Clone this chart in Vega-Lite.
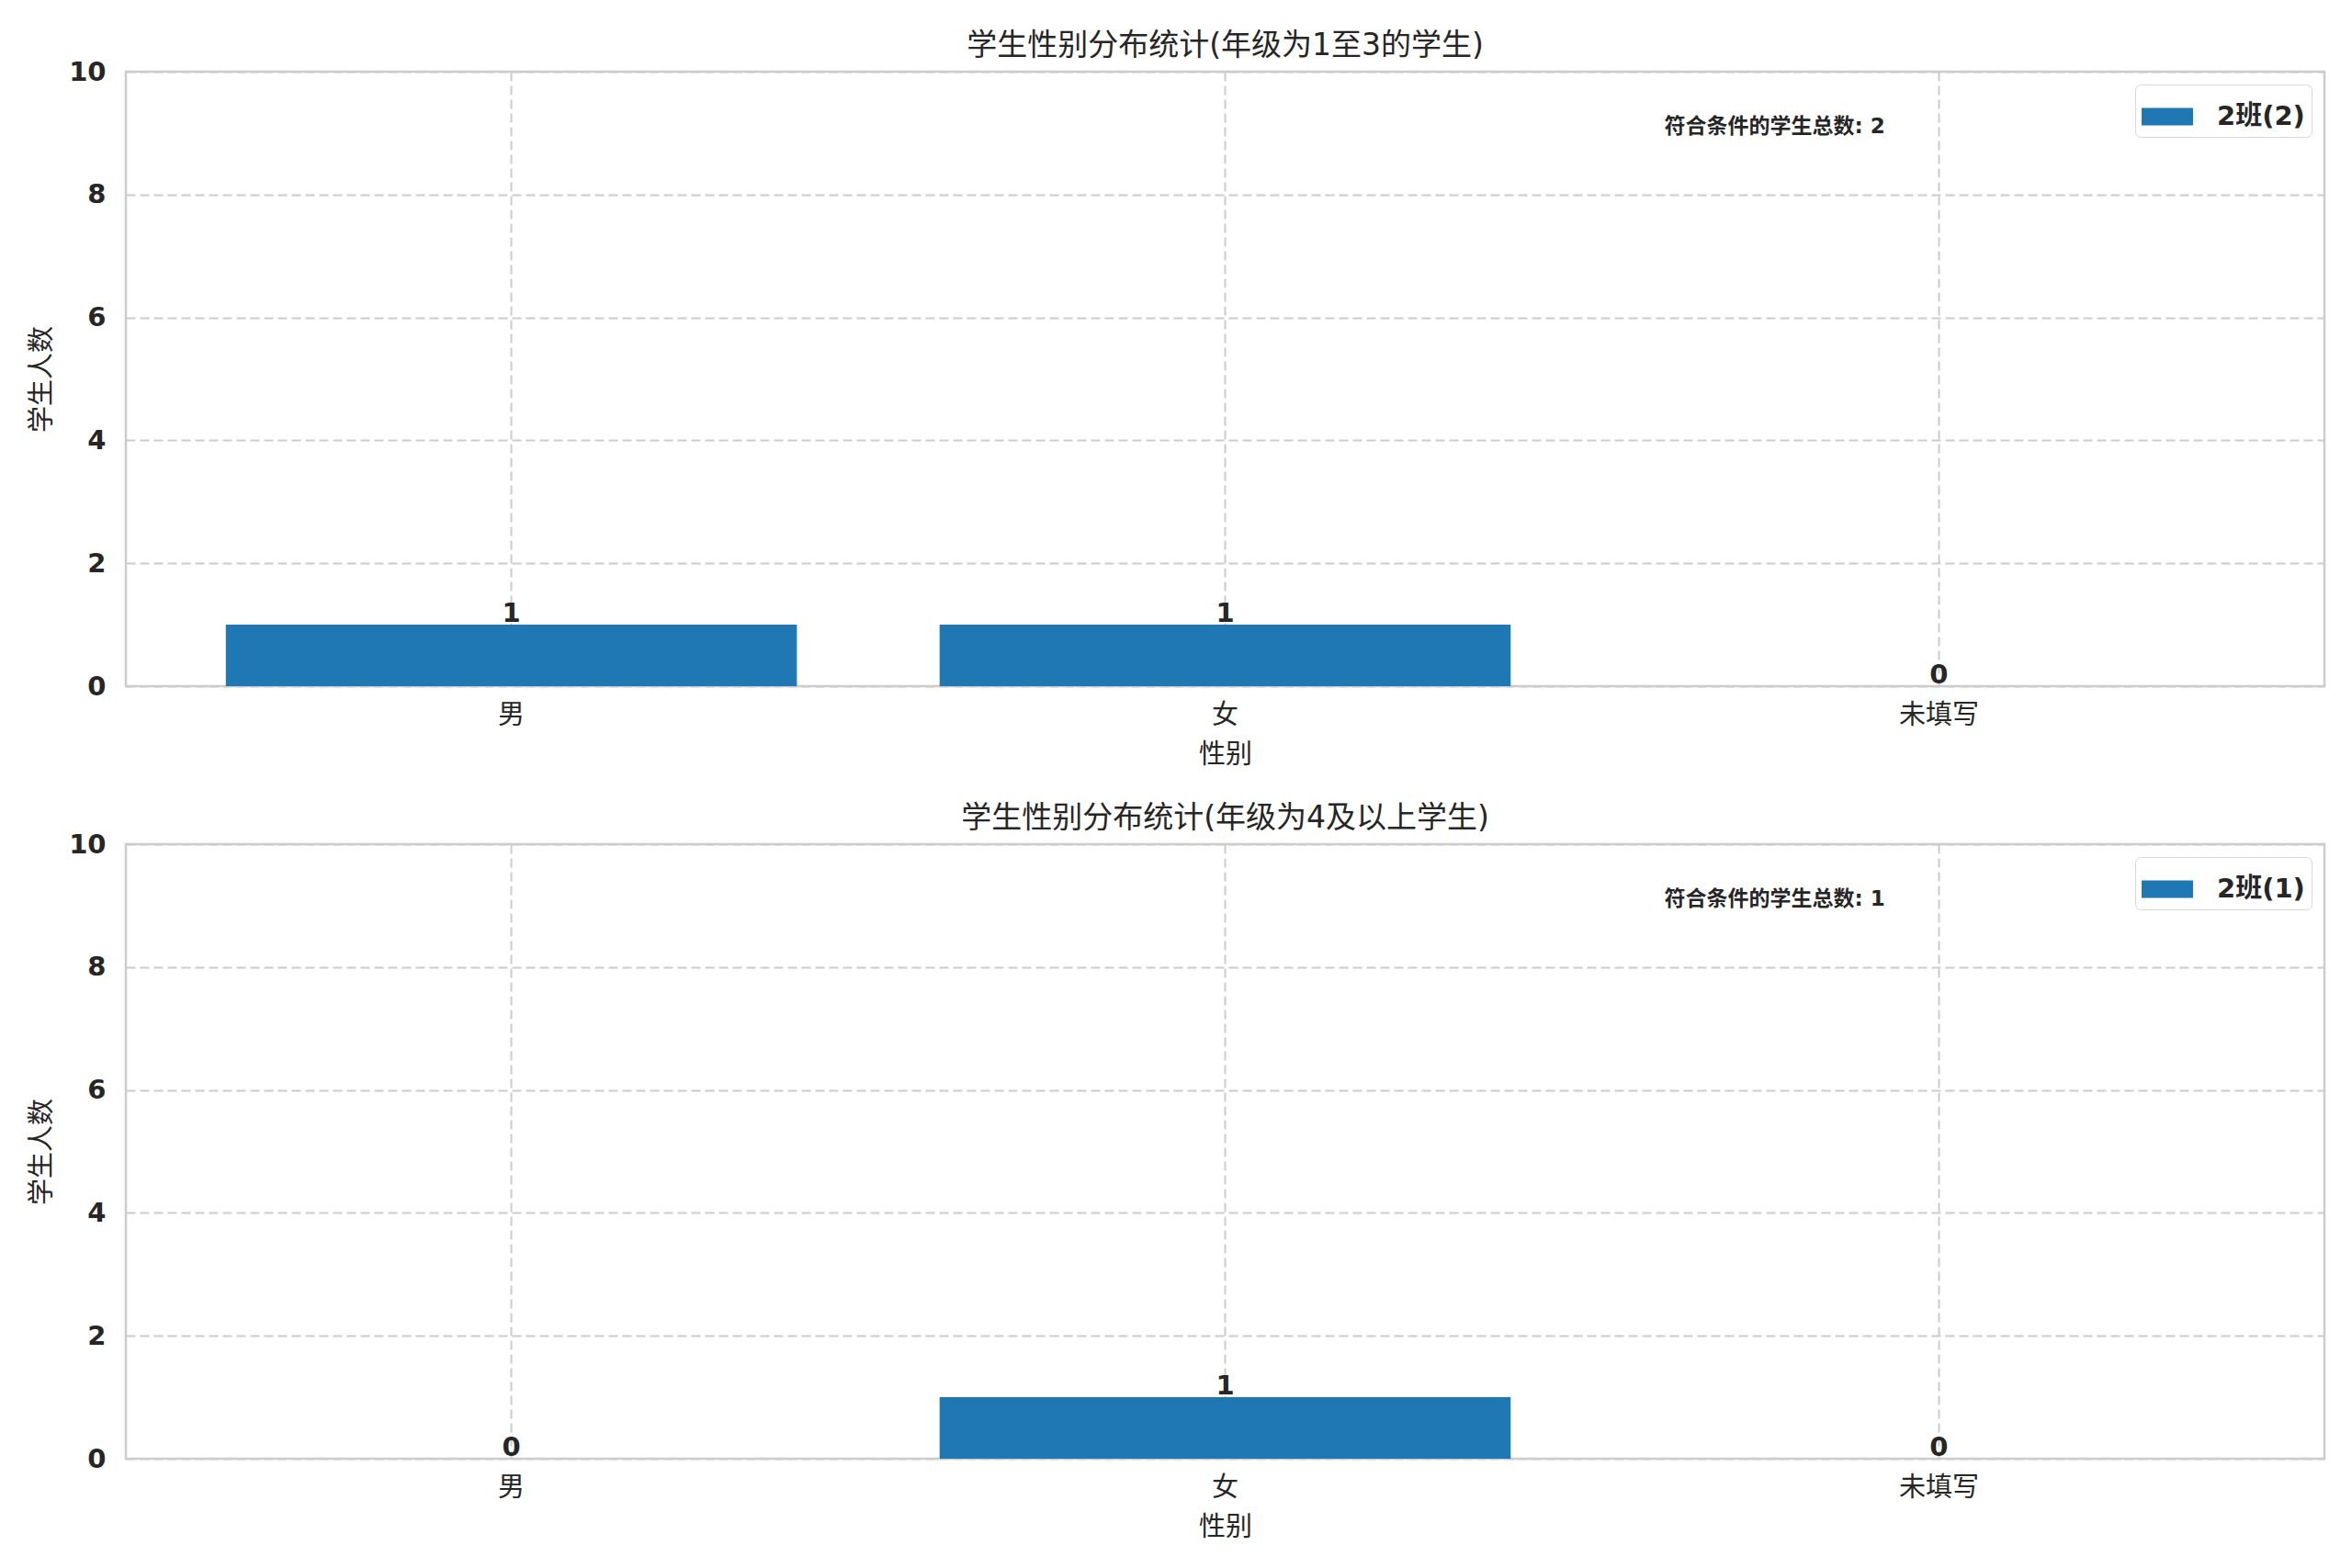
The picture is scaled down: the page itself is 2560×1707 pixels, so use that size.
{
  "$schema": "https://vega.github.io/schema/vega-lite/v6.json",
  "background": "white",
  "padding": {"left": 30, "top": 32, "right": 0, "bottom": 0},
  "spacing": 35,
  "config": {
    "font": "DejaVu Sans, Noto Sans CJK SC",
    "view": {"stroke": "#cccccc", "strokeWidth": 2.5},
    "title": {"fontSize": 33, "fontWeight": "normal", "color": "#262626", "offset": -3},
    "axis": {
      "ticks": false,
      "domain": false,
      "gridColor": "#cccccc",
      "gridDash": [10, 5],
      "gridWidth": 2,
      "labelColor": "#262626",
      "titleColor": "#262626",
      "labelFontSize": 29,
      "titleFontSize": 29,
      "titleFontWeight": "normal"
    },
    "legend": {
      "orient": "top-right",
      "offset": 14,
      "fillColor": "white",
      "strokeColor": "#d6d6d6",
      "cornerRadius": 6,
      "padding": 7,
      "labelFontSize": 29,
      "labelFontWeight": "bold",
      "labelColor": "#262626",
      "labelOffset": 26,
      "symbolType": "M-1,-0.34L1,-0.34L1,0.34L-1,0.34Z",
      "symbolSize": 3136,
      "symbolStrokeWidth": 0
    }
  },
  "resolve": {"scale": {"color": "independent"}, "legend": {"color": "independent"}},
  "vconcat": [
    {
      "title": "学生性别分布统计(年级为1至3的学生)",
      "width": 2393,
      "height": 669,
      "data": {"values": [
        {"gender": "男", "count": 1},
        {"gender": "女", "count": 1},
        {"gender": "未填写", "count": 0}
      ]},
      "layer": [
        {
          "mark": {"type": "bar"},
          "encoding": {
            "x": {
              "field": "gender", "type": "nominal", "sort": null,
              "scale": {"domain": ["男", "女", "未填写"], "paddingInner": 0.2, "paddingOuter": 0.14},
              "axis": {"title": "性别", "labelAngle": 0, "bandPosition": 0.5, "grid": true, "labelPadding": 17, "titlePadding": 14}
            },
            "y": {
              "field": "count", "type": "quantitative",
              "scale": {"domain": [0, 10], "nice": false},
              "axis": {"title": "学生人数", "values": [0, 2, 4, 6, 8, 10], "format": "d", "labelFontWeight": "bold", "labelPadding": 22, "titlePadding": 14}
            },
            "color": {"datum": "2班(2)", "scale": {"range": ["#1f77b4"]}, "legend": {"title": null}}
          }
        },
        {
          "mark": {"type": "text", "baseline": "alphabetic", "dy": -3, "fontSize": 29, "fontWeight": "bold", "color": "#262626"},
          "encoding": {
            "x": {"field": "gender", "type": "nominal", "sort": null},
            "y": {"field": "count", "type": "quantitative"},
            "text": {"field": "count", "type": "quantitative"}
          }
        },
        {
          "data": {"values": [{"label": "符合条件的学生总数: 2", "gender": "女", "count": 9}]},
          "mark": {"type": "text", "align": "left", "baseline": "alphabetic", "dx": 478, "fontSize": 23, "fontWeight": "bold", "color": "#262626"},
          "encoding": {
            "x": {"field": "gender", "type": "nominal", "sort": null},
            "y": {"field": "count", "type": "quantitative"},
            "text": {"field": "label", "type": "nominal"}
          }
        }
      ]
    },
    {
      "title": "学生性别分布统计(年级为4及以上学生)",
      "width": 2393,
      "height": 669,
      "data": {"values": [
        {"gender": "男", "count": 0},
        {"gender": "女", "count": 1},
        {"gender": "未填写", "count": 0}
      ]},
      "layer": [
        {
          "mark": {"type": "bar"},
          "encoding": {
            "x": {
              "field": "gender", "type": "nominal", "sort": null,
              "scale": {"domain": ["男", "女", "未填写"], "paddingInner": 0.2, "paddingOuter": 0.14},
              "axis": {"title": "性别", "labelAngle": 0, "bandPosition": 0.5, "grid": true, "labelPadding": 17, "titlePadding": 14}
            },
            "y": {
              "field": "count", "type": "quantitative",
              "scale": {"domain": [0, 10], "nice": false},
              "axis": {"title": "学生人数", "values": [0, 2, 4, 6, 8, 10], "format": "d", "labelFontWeight": "bold", "labelPadding": 22, "titlePadding": 14}
            },
            "color": {"datum": "2班(1)", "scale": {"range": ["#1f77b4"]}, "legend": {"title": null}}
          }
        },
        {
          "mark": {"type": "text", "baseline": "alphabetic", "dy": -3, "fontSize": 29, "fontWeight": "bold", "color": "#262626"},
          "encoding": {
            "x": {"field": "gender", "type": "nominal", "sort": null},
            "y": {"field": "count", "type": "quantitative"},
            "text": {"field": "count", "type": "quantitative"}
          }
        },
        {
          "data": {"values": [{"label": "符合条件的学生总数: 1", "gender": "女", "count": 9}]},
          "mark": {"type": "text", "align": "left", "baseline": "alphabetic", "dx": 478, "fontSize": 23, "fontWeight": "bold", "color": "#262626"},
          "encoding": {
            "x": {"field": "gender", "type": "nominal", "sort": null},
            "y": {"field": "count", "type": "quantitative"},
            "text": {"field": "label", "type": "nominal"}
          }
        }
      ]
    }
  ]
}
